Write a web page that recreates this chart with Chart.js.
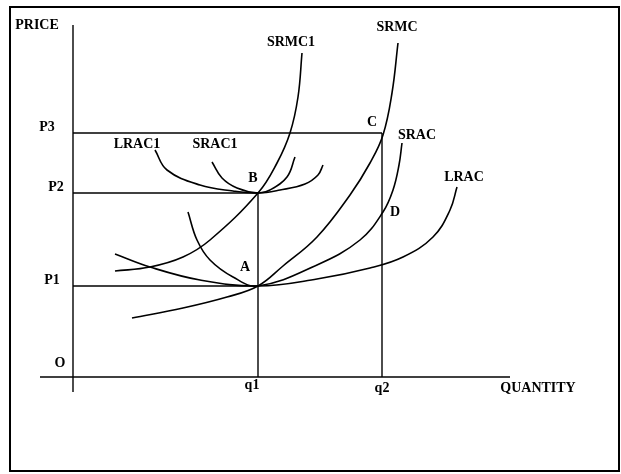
<!DOCTYPE html>
<html>
<head>
<meta charset="utf-8">
<script src="https://cdn.jsdelivr.net/npm/chart.js@4.4.1/dist/chart.umd.min.js"></script>
<style>
  html, body { margin: 0; padding: 0; background: #fff; }
  #wrap { position: relative; width: 621px; height: 474px; }
</style>
</head>
<body>
<div id="wrap"><canvas id="cost-chart" width="621" height="474"></canvas></div>
<script>
// quantity / price points, as [q, p]
const srmc1 = [[10.5, 26.5], [19.25, 27.5], [27.5, 30], [34.25, 34.25], [46.25, 46], [51, 53.5], [54.25, 61], [56.25, 70], [57.25, 81]];
const srac1 = [[34.75, 53.75], [37.25, 49.75], [41, 47.25], [46.25, 46], [49.25, 46.75], [53.5, 50], [55.5, 55]];
const lrac1 = [[20.5, 56.75], [23.5, 51.75], [31.75, 48], [40, 46.5], [46.25, 46], [51.75, 46.75], [58, 48.25], [61.25, 50.5], [62.5, 53]];
const srmc = [[14.75, 14.75], [27.5, 17.25], [38.5, 20], [46.25, 22.75], [52.5, 27.75], [61, 35], [69.25, 45.5], [74.25, 53.5], [77.5, 60.5], [79.75, 71], [81.25, 83.5]];
const srac = [[28.75, 41.25], [31, 34.25], [34.25, 29.25], [40, 25], [46.25, 22.75], [61, 28], [71.75, 34.25], [77.5, 41.25], [80, 46.75], [81.5, 53], [82.25, 58.5]];
const lrac = [[10.5, 30.75], [19.25, 27.5], [31.75, 24.25], [46.25, 22.75], [61, 24.5], [74.25, 27.25], [82.5, 30], [90, 35], [94.25, 41.75], [96, 47.5]];

// price and quantity levels
const priceNames = ['P1', 'P2', 'P3'];
const priceLevels = [22.75, 46, 61];
const qtyNames = ['q1', 'q2'];
const qtyLevels = [46.25, 77.25];

// axis extents
const qAxis = [-8.25, 109.25];
const pAxis = [-3.75, 88];

// curve names and where their text sits
const curveNotes = [
    ['SRMC1', 54.5, 83.75], ['SRMC', 81, 87.5], ['SRAC', 86, 60.5], ['LRAC', 97.75, 50],
    ['LRAC1', 16, 58.25], ['SRAC1', 35.5, 58.25],
    ['A', 43, 27.5], ['B', 45, 49.75], ['C', 74.75, 63.75], ['D', 80.5, 41.25],
    ['O', -3.25, 3.5], ['PRICE', -9, 88], ['QUANTITY', 116.25, -2.75]
];

function toPts(arr) {
    return arr.map((p) => ({ x: p[0], y: p[1] }));
}

function curve(arr) {
    return {
        data: toPts(arr),
        showLine: true,
        borderColor: '#000',
        borderWidth: 1.6,
        pointRadius: 0,
        tension: 0.4,
        fill: false,
    };
}

function segment(pts) {
    return {
        data: pts,
        showLine: true,
        borderColor: '#000',
        borderWidth: 1.4,
        pointRadius: 0,
        tension: 0,
        fill: false,
    };
}

const datasets = [];
// axes
datasets.push(segment([{ x: qAxis[0], y: 0 }, { x: qAxis[1], y: 0 }]));
datasets.push(segment([{ x: 0, y: pAxis[0] }, { x: 0, y: pAxis[1] }]));
// price lines run out to the quantity where they meet
datasets.push(segment([{ x: 0, y: priceLevels[0] }, { x: qtyLevels[0], y: priceLevels[0] }]));
datasets.push(segment([{ x: 0, y: priceLevels[1] }, { x: qtyLevels[0], y: priceLevels[1] }]));
datasets.push(segment([{ x: 0, y: priceLevels[2] }, { x: qtyLevels[1], y: priceLevels[2] }]));
datasets.push(segment([{ x: qtyLevels[0], y: 0 }, { x: qtyLevels[0], y: priceLevels[1] }]));
datasets.push(segment([{ x: qtyLevels[1], y: 0 }, { x: qtyLevels[1], y: priceLevels[2] }]));
[srmc1, srac1, lrac1, srmc, srac, lrac].forEach((c) => datasets.push(curve(c)));

const textPlugin = {
    id: 'textPlugin',
    beforeDraw(chart) {
        const ctx = chart.ctx;
        ctx.save();
        ctx.strokeStyle = '#000';
        ctx.lineWidth = 2;
        ctx.strokeRect(10, 7, 609, 464);
        ctx.restore();
    },
    afterDatasetsDraw(chart) {
        const ctx = chart.ctx;
        const xs = chart.scales.x;
        const ys = chart.scales.y;
        ctx.save();
        ctx.fillStyle = '#000';
        ctx.font = 'bold 14px "Liberation Serif"';
        ctx.textAlign = 'center';
        ctx.textBaseline = 'middle';
        curveNotes.forEach((n) => {
            ctx.fillText(n[0], xs.getPixelForValue(n[1]), ys.getPixelForValue(n[2]));
        });
        // price ticks sit left of the axis, a little above their line
        const pShift = [21, 17, 26];
        priceNames.forEach((name, i) => {
            ctx.fillText(name, xs.getPixelForValue(0) - pShift[i], ys.getPixelForValue(priceLevels[i]) - 6);
        });
        const qDrop = [8, 11];
        qtyNames.forEach((name, i) => {
            ctx.fillText(name, xs.getPixelForValue(qtyLevels[i]) - (i === 0 ? 6 : 0), ys.getPixelForValue(0) + qDrop[i]);
        });
        ctx.restore();
    }
};

new Chart(document.getElementById('cost-chart').getContext('2d'), {
    type: 'scatter',
    data: { datasets: datasets },
    options: {
        responsive: false,
        animation: false,
        layout: { padding: 0 },
        plugins: {
            legend: { display: false },
            tooltip: { enabled: false },
        },
        scales: {
            x: { type: 'linear', min: -18.25, max: 137, display: false },
            y: { type: 'linear', min: -24.25, max: 94.25, display: false },
        },
    },
    plugins: [textPlugin]
});
</script>
</body>
</html>
